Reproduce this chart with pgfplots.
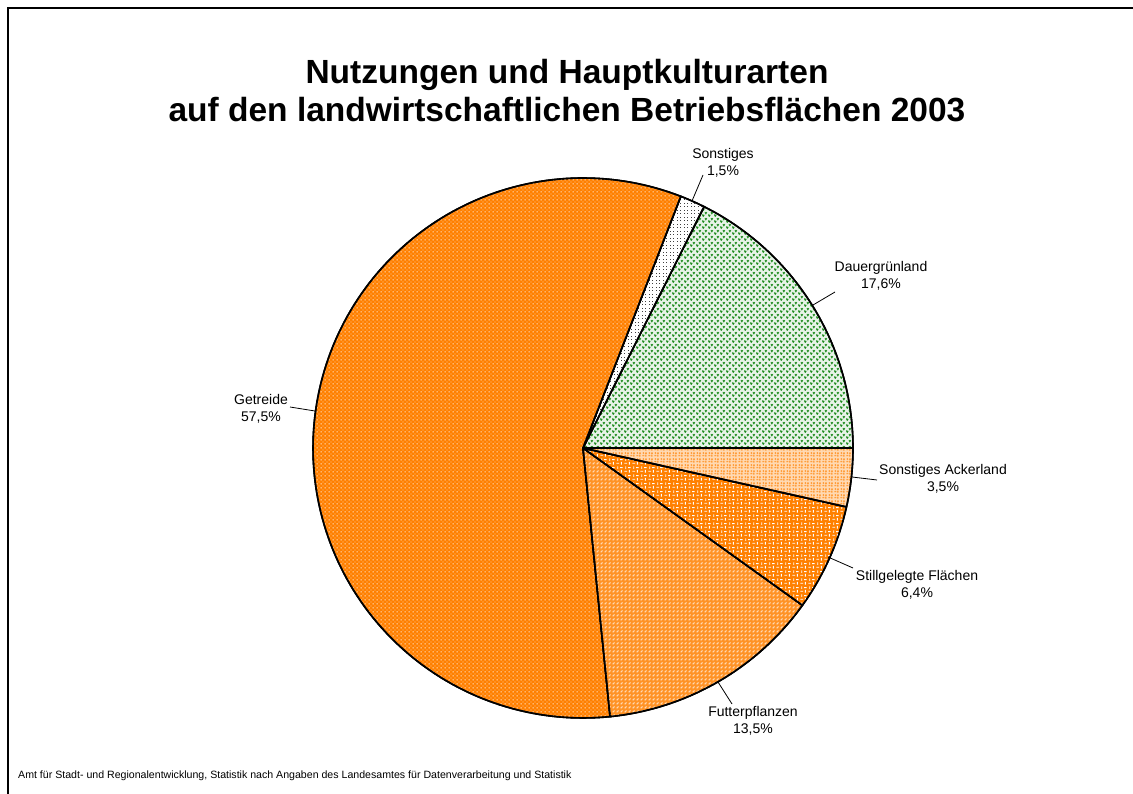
\documentclass[border=0pt]{standalone}
\usepackage{fontspec}
\setmainfont{Liberation Sans}
\usepackage{pgfplots}
\usepackage{pgfplotstable}
\pgfplotsset{compat=1.18}
\usetikzlibrary{patterns}

\definecolor{pieorange}{RGB}{255,128,0}
\definecolor{piegreen}{RGB}{30,140,30}

% fill patterns of the slices
\pgfdeclarepatternformonly{grain}{\pgfpoint{-0.1pt}{-0.1pt}}{\pgfpoint{4.1pt}{4.1pt}}{\pgfpoint{4pt}{4pt}}{%
  \pgfpathrectangle{\pgfpoint{0.5pt}{0.5pt}}{\pgfpoint{1.1pt}{1.1pt}}%
  \pgfpathrectangle{\pgfpoint{2.5pt}{2.5pt}}{\pgfpoint{0.9pt}{0.9pt}}\pgfusepath{fill}}
\pgfdeclarepatternformonly{specks}{\pgfpoint{-0.1pt}{-0.1pt}}{\pgfpoint{3.6pt}{3.6pt}}{\pgfpoint{3.5pt}{3.5pt}}{%
  \pgfpathrectangle{\pgfpoint{1pt}{1pt}}{\pgfpoint{1pt}{1pt}}\pgfusepath{fill}}
\pgfdeclarepatternformonly{dashes}{\pgfpoint{-0.1pt}{-0.1pt}}{\pgfpoint{4.1pt}{4.1pt}}{\pgfpoint{4pt}{4pt}}{%
  \pgfpathrectangle{\pgfpoint{0.5pt}{0.5pt}}{\pgfpoint{1pt}{1pt}}%
  \pgfpathrectangle{\pgfpoint{1.5pt}{1.5pt}}{\pgfpoint{1pt}{1pt}}%
  \pgfusepath{fill}}
\pgfdeclarepatternformonly{weave}{\pgfpoint{0pt}{0pt}}{\pgfpoint{8pt}{8pt}}{\pgfpoint{8pt}{8pt}}{%
  \pgfsetlinewidth{1pt}%
  \pgfpathmoveto{\pgfpoint{0.5pt}{2pt}}\pgfpathlineto{\pgfpoint{3.5pt}{2pt}}%
  \pgfpathmoveto{\pgfpoint{6pt}{0.5pt}}\pgfpathlineto{\pgfpoint{6pt}{3.5pt}}%
  \pgfpathmoveto{\pgfpoint{2pt}{4.5pt}}\pgfpathlineto{\pgfpoint{2pt}{7.5pt}}%
  \pgfpathmoveto{\pgfpoint{4.5pt}{6pt}}\pgfpathlineto{\pgfpoint{7.5pt}{6pt}}%
  \pgfusepath{stroke}}
\pgfdeclarepatternformonly{smallweave}{\pgfpoint{0pt}{0pt}}{\pgfpoint{6pt}{6pt}}{\pgfpoint{6pt}{6pt}}{%
  \pgfsetlinewidth{1pt}%
  \pgfpathmoveto{\pgfpoint{0.3pt}{1.5pt}}\pgfpathlineto{\pgfpoint{2.7pt}{1.5pt}}%
  \pgfpathmoveto{\pgfpoint{4.5pt}{0.3pt}}\pgfpathlineto{\pgfpoint{4.5pt}{2.7pt}}%
  \pgfpathmoveto{\pgfpoint{1.5pt}{3.3pt}}\pgfpathlineto{\pgfpoint{1.5pt}{5.7pt}}%
  \pgfpathmoveto{\pgfpoint{3.3pt}{4.5pt}}\pgfpathlineto{\pgfpoint{5.7pt}{4.5pt}}%
  \pgfusepath{stroke}}
\pgfdeclarepatternformonly{sprigs}{\pgfpoint{0pt}{0pt}}{\pgfpoint{6pt}{6pt}}{\pgfpoint{6pt}{6pt}}{%
  \pgfsetlinewidth{1.3pt}%
  \pgfpathmoveto{\pgfpoint{0.5pt}{3pt}}\pgfpathlineto{\pgfpoint{1.5pt}{1pt}}\pgfpathlineto{\pgfpoint{2.5pt}{2.5pt}}%
  \pgfpathmoveto{\pgfpoint{3.5pt}{5.5pt}}\pgfpathlineto{\pgfpoint{4.5pt}{4pt}}\pgfpathlineto{\pgfpoint{5.5pt}{5.5pt}}%
  \pgfusepath{stroke}}

% shares in percent, counter-clockwise from 3 o'clock:
% Dauergrünland, Sonstiges, Getreide, Futterpflanzen, Stillgelegte Flächen, Sonstiges Ackerland
\pgfplotstableread{
pct
17.6
1.5
57.5
13.5
6.4
3.5
}\shares

\begin{document}
\begin{tikzpicture}
\def\angA{0}
\pgfplotstablegetelem{0}{pct}\of\shares\pgfmathsetmacro\angB{\angA+3.6*\pgfplotsretval}
\pgfplotstablegetelem{1}{pct}\of\shares\pgfmathsetmacro\angC{\angB+3.6*\pgfplotsretval}
\pgfplotstablegetelem{2}{pct}\of\shares\pgfmathsetmacro\angD{\angC+3.6*\pgfplotsretval}
\pgfplotstablegetelem{3}{pct}\of\shares\pgfmathsetmacro\angE{\angD+3.6*\pgfplotsretval}
\pgfplotstablegetelem{4}{pct}\of\shares\pgfmathsetmacro\angF{\angE+3.6*\pgfplotsretval}
\pgfplotstablegetelem{5}{pct}\of\shares\pgfmathsetmacro\angG{\angF+3.6*\pgfplotsretval}
\begin{axis}[
  at={(0,0)}, anchor=south west,
  scale only axis, width=1133pt, height=793pt,
  xmin=0, xmax=1133, ymin=0, ymax=793,
  axis lines=none, ticks=none, clip=false,
  slice/.style={draw=black, line width=1.6pt, line join=round, samples=150, variable=\t},
]
% pie slices, centre (583,345), radius 270
\addplot[slice, domain=\angA:\angB, preaction={fill=piegreen!10}, pattern=sprigs, pattern color=piegreen]
  ({583+270*cos(\t)},{345+270*sin(\t)}) -- (axis cs:583,345) -- cycle;
\addplot[slice, domain=\angB:\angC, preaction={fill=white}, pattern=specks, pattern color=black!75]
  ({583+270*cos(\t)},{345+270*sin(\t)}) -- (axis cs:583,345) -- cycle;
\addplot[slice, domain=\angC:\angD, preaction={fill=pieorange}, pattern=grain, pattern color=white]
  ({583+270*cos(\t)},{345+270*sin(\t)}) -- (axis cs:583,345) -- cycle;
\addplot[slice, domain=\angD:\angE, preaction={fill=pieorange!85!white}, pattern=dashes, pattern color=white]
  ({583+270*cos(\t)},{345+270*sin(\t)}) -- (axis cs:583,345) -- cycle;
\addplot[slice, domain=\angE:\angF, preaction={fill=pieorange}, pattern=weave, pattern color=white]
  ({583+270*cos(\t)},{345+270*sin(\t)}) -- (axis cs:583,345) -- cycle;
\addplot[slice, domain=\angF:\angG, preaction={fill=pieorange!30}, pattern=smallweave, pattern color=pieorange]
  ({583+270*cos(\t)},{345+270*sin(\t)}) -- (axis cs:583,345) -- cycle;

% leader lines
\draw[line width=0.8pt] (axis cs:692,592) -- (axis cs:703,618);
\draw[line width=0.8pt] (axis cs:813,488) -- (axis cs:835,501);
\draw[line width=0.8pt] (axis cs:852,316) -- (axis cs:877,313);
\draw[line width=0.8pt] (axis cs:828,236) -- (axis cs:853,225);
\draw[line width=0.8pt] (axis cs:718,111) -- (axis cs:732,89);
\draw[line width=0.8pt] (axis cs:290,386) -- (axis cs:315,382);

% slice labels
\tikzset{lbl/.style={align=center, inner sep=0pt, font=\fontsize{14}{17}\selectfont}}
\node[lbl] at (axis cs:723,630) {Sonstiges\\1,5\%};
\node[lbl] at (axis cs:881,517) {Dauergrünland\\17,6\%};
\node[lbl] at (axis cs:943,314) {Sonstiges Ackerland\\3,5\%};
\node[lbl] at (axis cs:917,208) {Stillgelegte Flächen\\6,4\%};
\node[lbl] at (axis cs:753,72) {Futterpflanzen\\13,5\%};
\node[lbl] at (axis cs:261,384) {Getreide\\57,5\%};

% title
\node[align=center, inner sep=0pt, font=\fontsize{33.5}{38}\selectfont\bfseries]
  at (axis cs:567,702) {Nutzungen und Hauptkulturarten\\auf den landwirtschaftlichen Betriebsflächen 2003};
\end{axis}
% source line and frame
\node[anchor=base west, inner sep=0pt, font=\fontsize{10.6}{12}\selectfont] at (18pt,15pt)
  {Amt für Stadt- und Regionalentwicklung, Statistik nach Angaben des Landesamtes für Datenverarbeitung und Statistik};
\draw[line width=2pt] (8pt,-20pt) |- (1160pt,785pt);
\pgfresetboundingbox
\useasboundingbox (0,0) rectangle (1133pt,793pt);
\end{tikzpicture}
\end{document}
